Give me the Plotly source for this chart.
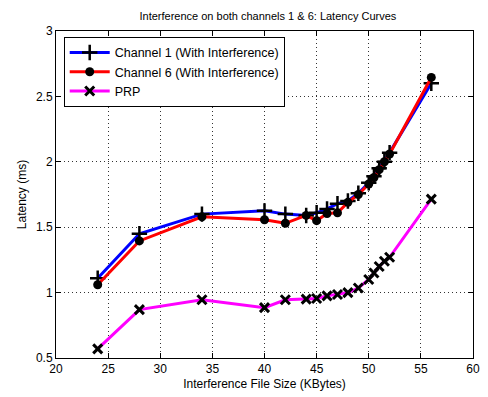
import plotly.graph_objects as go

x_vals = [24, 28, 34, 40, 42, 44, 45, 46, 47, 48, 49, 50, 50.5, 51, 51.5, 52, 56]
ch1_latency = [1.11, 1.45, 1.60, 1.625, 1.60, 1.59, 1.61, 1.64, 1.68, 1.70, 1.76, 1.84, 1.89, 1.95, 2.00, 2.07, 2.60]
ch6_latency = [1.06, 1.395, 1.58, 1.557, 1.53, 1.59, 1.55, 1.605, 1.61, 1.69, 1.75, 1.83, 1.88, 1.94, 2.00, 2.06, 2.645]
prp_latency = [0.57, 0.87, 0.945, 0.885, 0.945, 0.95, 0.955, 0.975, 0.985, 1.00, 1.035, 1.10, 1.15, 1.20, 1.24, 1.27, 1.715]

names = ["Channel 1 (With Interference)", "Channel 6 (With Interference)", "PRP"]
x_ticks = [20, 25, 30, 35, 40, 45, 50, 55, 60]
y_ticks = [0.5, 1, 1.5, 2, 2.5, 3]

font_family = "Liberation Sans, Arial, sans-serif"

fig = go.Figure()
fig.add_trace(go.Scatter(
    x=x_vals, y=ch1_latency, name=names[0], mode="lines+markers",
    line=dict(color="#0000FF", width=3),
    marker=dict(symbol="cross-thin", size=11, color="black",
                line=dict(color="black", width=2.5)),
))
fig.add_trace(go.Scatter(
    x=x_vals, y=ch6_latency, name=names[1], mode="lines+markers",
    line=dict(color="#FF0000", width=3),
    marker=dict(symbol="circle", size=9, color="black",
                line=dict(color="black", width=0)),
))
fig.add_trace(go.Scatter(
    x=x_vals, y=prp_latency, name=names[2], mode="lines+markers",
    line=dict(color="#FF00FF", width=3),
    marker=dict(symbol="x-thin", size=9, color="black",
                line=dict(color="black", width=3)),
))

axis_common = dict(
    showline=True, linecolor="black", linewidth=1, mirror="ticks",
    ticks="inside", ticklen=5, tickcolor="black",
    showgrid=True, gridcolor="#333333", griddash="1px,3px", gridwidth=1,
    zeroline=False,
    tickfont=dict(family=font_family, size=12, color="black"),
)

fig.update_layout(
    width=488, height=397,
    margin=dict(l=56, r=8, t=31, b=34),
    paper_bgcolor="white", plot_bgcolor="white",
    title=dict(text="Interference on both channels 1 & 6: Latency Curves",
               x=0.549, xanchor="center", y=0.96, yanchor="middle",
               font=dict(family=font_family, size=11, color="black")),
    xaxis=dict(range=[20, 60], tickvals=x_ticks,
               title=dict(text="Interference File Size (KBytes)", standoff=4,
                          font=dict(family=font_family, size=12, color="black")),
               **axis_common),
    yaxis=dict(range=[0.5, 3], tickvals=y_ticks,
               ticktext=[str(v) if v != int(v) else str(int(v)) for v in y_ticks],
               title=dict(text="Latency (ms)", standoff=6,
                          font=dict(family=font_family, size=12, color="black")),
               **axis_common),
    legend=dict(x=0.0185, y=0.982, xanchor="left", yanchor="top",
                bgcolor="white", bordercolor="black", borderwidth=1,
                font=dict(family=font_family, size=12.5, color="black"),
                tracegroupgap=0, itemwidth=40),
    showlegend=True,
)

fig.write_html("out.html")
